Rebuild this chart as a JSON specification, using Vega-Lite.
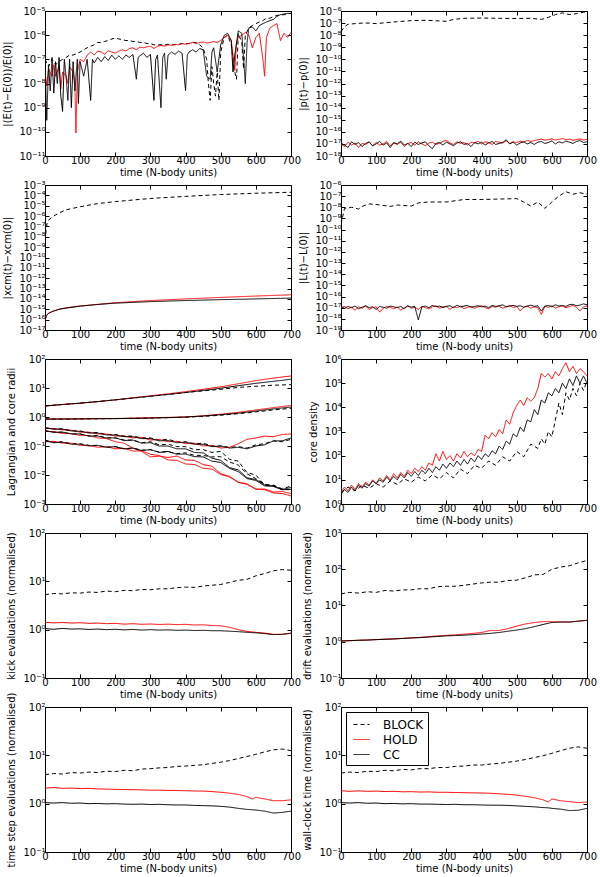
{
  "$schema": "https://vega.github.io/schema/vega-lite/v6.json",
  "padding": {"left": 2, "top": 5, "right": 0, "bottom": 2},
  "background": "white",
  "columns": 2,
  "bounds": "flush",
  "spacing": {"row": 29, "column": 50},
  "resolve": {
    "scale": {"color": "independent", "strokeDash": "independent", "y": "independent"},
    "legend": {"color": "independent", "strokeDash": "independent"}
  },
  "config": {
    "font": "DejaVu Sans",
    "view": {"stroke": "black", "strokeWidth": 1},
    "axis": {
      "grid": false, "domain": false, "tickColor": "black", "tickSize": -4, "tickWidth": 1,
      "labelColor": "black", "labelFontSize": 10, "labelPadding": 4, "labelOverlap": false, "labelFlush": false,
      "titleColor": "black", "titleFontSize": 10, "titleFontWeight": "normal"
    },
    "axisX": {"titlePadding": 2, "labelPadding": 3, "titleFontWeight": "normal"},
    "axisY": {"titlePadding": 6, "titleFontWeight": "normal"}
  },
  "datasets": {
    "p1": [
      {"t":0,"BLOCK":1e-7,"HOLD":3e-8,"CC":1e-7},
      {"t":5,"HOLD":8e-9,"CC":3e-10},
      {"t":10,"BLOCK":5e-8,"HOLD":4e-8,"CC":6e-8},
      {"t":15,"CC":5e-9},
      {"t":20,"BLOCK":1e-7,"HOLD":2e-8,"CC":1.2e-7},
      {"t":25,"HOLD":6e-8,"CC":4e-9},
      {"t":30,"BLOCK":6e-8,"HOLD":2e-8,"CC":8e-8},
      {"t":35,"CC":1e-8},
      {"t":40,"BLOCK":8e-8,"HOLD":5e-8,"CC":1.2e-7},
      {"t":45,"HOLD":6e-9,"CC":3e-9},
      {"t":50,"BLOCK":1e-7,"HOLD":3e-8,"CC":7e-10},
      {"t":55,"CC":1e-7},
      {"t":60,"BLOCK":1.2e-7,"HOLD":2e-8,"CC":2e-8},
      {"t":65,"HOLD":1e-8,"CC":2e-9},
      {"t":70,"BLOCK":1.5e-7,"HOLD":5e-8,"CC":1e-7},
      {"t":75,"CC":1e-9},
      {"t":80,"BLOCK":1.5e-7,"HOLD":3e-8,"CC":8e-8},
      {"t":85,"HOLD":1e-8,"CC":5e-9},
      {"t":88,"HOLD":9e-11},
      {"t":92,"HOLD":3e-8,"CC":1e-7},
      {"t":95,"CC":1.5e-9},
      {"t":100,"BLOCK":2e-7,"HOLD":1e-7,"CC":8e-8},
      {"t":110,"BLOCK":2.5e-7,"HOLD":8e-8,"CC":2e-8},
      {"t":120,"BLOCK":3e-7,"HOLD":1.5e-7,"CC":1e-7},
      {"t":130,"BLOCK":3.5e-7,"HOLD":2e-7,"CC":2e-9},
      {"t":135,"CC":1e-7},
      {"t":140,"BLOCK":4e-7,"HOLD":1.5e-7,"CC":7e-8},
      {"t":150,"BLOCK":5e-7,"HOLD":2.2e-7,"CC":1.2e-7},
      {"t":160,"BLOCK":5e-7,"HOLD":2e-7,"CC":8e-8},
      {"t":170,"BLOCK":5.5e-7,"HOLD":1.6e-7,"CC":1.3e-7},
      {"t":180,"BLOCK":6e-7,"HOLD":2.3e-7,"CC":9e-8},
      {"t":190,"BLOCK":7e-7,"HOLD":2e-7,"CC":1.5e-7},
      {"t":200,"BLOCK":7.5e-7,"HOLD":1.8e-7,"CC":1e-7},
      {"t":210,"BLOCK":7e-7,"HOLD":2.2e-7,"CC":1.4e-7},
      {"t":220,"BLOCK":6.5e-7,"HOLD":2.5e-7,"CC":1e-7},
      {"t":230,"BLOCK":6e-7,"HOLD":2.2e-7,"CC":1.5e-7},
      {"t":240,"BLOCK":6e-7,"HOLD":2.8e-7,"CC":1.2e-7},
      {"t":250,"BLOCK":5.5e-7,"HOLD":3e-7,"CC":1.6e-7},
      {"t":260,"BLOCK":5.5e-7,"HOLD":2.5e-7,"CC":1.5e-8},
      {"t":265,"CC":1.2e-7},
      {"t":270,"BLOCK":5e-7,"HOLD":3.2e-7,"CC":1.4e-7},
      {"t":280,"BLOCK":5e-7,"HOLD":3e-7,"CC":1.8e-7},
      {"t":290,"BLOCK":4.5e-7,"HOLD":3.3e-7,"CC":1.2e-7},
      {"t":300,"BLOCK":4.5e-7,"HOLD":3.5e-7,"CC":1.6e-7},
      {"t":310,"BLOCK":4e-7,"HOLD":2.8e-7,"CC":2e-9},
      {"t":315,"CC":1e-7},
      {"t":320,"BLOCK":4e-7,"HOLD":3.5e-7,"CC":1.5e-7},
      {"t":330,"BLOCK":4e-7,"HOLD":3.8e-7,"CC":1e-9},
      {"t":335,"CC":1.2e-7},
      {"t":340,"BLOCK":4e-7,"HOLD":3.5e-7,"CC":1.8e-7},
      {"t":345,"CC":1.5e-8},
      {"t":350,"BLOCK":4.2e-7,"HOLD":4e-7,"CC":1.5e-7},
      {"t":360,"BLOCK":4e-7,"HOLD":3.8e-7,"CC":2e-7},
      {"t":370,"BLOCK":4e-7,"HOLD":4.2e-7,"CC":1.6e-7},
      {"t":380,"BLOCK":4.2e-7,"HOLD":4e-7,"CC":2.2e-7},
      {"t":390,"BLOCK":4.5e-7,"HOLD":4.5e-7,"CC":1.8e-7},
      {"t":400,"BLOCK":4.5e-7,"HOLD":4.2e-7,"CC":5e-9},
      {"t":405,"CC":1.5e-7},
      {"t":410,"BLOCK":4.5e-7,"HOLD":4.5e-7,"CC":2e-7},
      {"t":420,"BLOCK":5e-7,"HOLD":5e-7,"CC":2.5e-7},
      {"t":430,"BLOCK":5e-7,"HOLD":4.5e-7,"CC":2e-7},
      {"t":440,"BLOCK":4e-7,"HOLD":5e-7,"CC":2.8e-7},
      {"t":450,"BLOCK":3e-7,"HOLD":5.2e-7,"CC":2.5e-7},
      {"t":460,"BLOCK":1e-7,"HOLD":4.8e-7,"CC":2e-8},
      {"t":465,"BLOCK":1e-8},
      {"t":470,"BLOCK":2e-9,"HOLD":5e-7,"CC":1.5e-8},
      {"t":475,"BLOCK":5e-8,"CC":2e-7},
      {"t":480,"BLOCK":1e-8,"HOLD":5.5e-7,"CC":3e-7},
      {"t":485,"BLOCK":3e-9},
      {"t":490,"BLOCK":3e-8,"HOLD":5e-7,"CC":3e-8},
      {"t":495,"BLOCK":2e-9},
      {"t":500,"BLOCK":2e-7,"HOLD":6e-7,"CC":4e-7},
      {"t":510,"BLOCK":8e-7,"HOLD":8e-7,"CC":1e-6},
      {"t":520,"BLOCK":1e-6,"HOLD":1e-6,"CC":1.2e-6},
      {"t":530,"BLOCK":4e-7,"HOLD":6e-7,"CC":6e-7},
      {"t":535,"HOLD":1.5e-7,"CC":3e-8},
      {"t":540,"BLOCK":3e-8,"HOLD":3.5e-8,"CC":1.5e-7},
      {"t":545,"BLOCK":1.5e-8,"HOLD":5e-7},
      {"t":550,"BLOCK":1.2e-6,"HOLD":8e-7,"CC":1.5e-6},
      {"t":560,"BLOCK":5e-7,"HOLD":1e-6,"CC":1.2e-6},
      {"t":565,"BLOCK":4e-8},
      {"t":570,"BLOCK":1e-6,"HOLD":1.3e-6,"CC":1e-8},
      {"t":575,"CC":5e-7},
      {"t":580,"BLOCK":2e-6,"HOLD":1e-6,"CC":2e-6},
      {"t":590,"BLOCK":2.5e-6,"HOLD":3e-7,"CC":2.2e-6},
      {"t":600,"BLOCK":3e-6,"HOLD":8e-7,"CC":1.5e-6},
      {"t":610,"BLOCK":3.5e-6,"HOLD":1.2e-6,"CC":2.5e-6},
      {"t":620,"BLOCK":4e-6,"HOLD":1e-7,"CC":3e-6},
      {"t":625,"HOLD":2e-8},
      {"t":630,"BLOCK":5e-6,"HOLD":8e-7,"CC":3.5e-6},
      {"t":640,"BLOCK":5e-6,"HOLD":2e-6,"CC":4e-6},
      {"t":650,"BLOCK":6e-6,"HOLD":2.5e-6,"CC":4.5e-6},
      {"t":660,"BLOCK":6.5e-6,"HOLD":3e-6,"CC":6e-6},
      {"t":670,"BLOCK":7e-6,"HOLD":6e-7,"CC":7e-6},
      {"t":680,"BLOCK":7e-6,"HOLD":1.2e-6,"CC":7.5e-6},
      {"t":690,"BLOCK":7.5e-6,"HOLD":8e-7,"CC":8e-6},
      {"t":700,"BLOCK":8e-6,"HOLD":1.3e-6,"CC":8e-6}
    ],
    "p2": [
      {"t":0,"HOLD":1.0e-17,"CC":1.2e-17,"BLOCK":2e-8},
      {"t":10,"HOLD":0.6e-17,"CC":0.8e-17,"BLOCK":5e-8},
      {"t":20,"HOLD":1.4e-17,"CC":0.5e-17,"BLOCK":8e-8},
      {"t":30,"HOLD":0.8e-17,"CC":1.5e-17},
      {"t":40,"HOLD":1.2e-17,"CC":0.9e-17,"BLOCK":9e-8},
      {"t":50,"HOLD":0.5e-17,"CC":1.3e-17},
      {"t":60,"HOLD":1.1e-17,"CC":0.6e-17,"BLOCK":1e-7},
      {"t":70,"HOLD":0.9e-17,"CC":1.1e-17},
      {"t":80,"HOLD":1.5e-17,"CC":1.4e-17,"BLOCK":1e-7},
      {"t":90,"HOLD":0.7e-17,"CC":0.7e-17},
      {"t":100,"HOLD":1.3e-17,"CC":1.0e-17,"BLOCK":9e-8},
      {"t":110,"HOLD":0.8e-17,"CC":1.6e-17},
      {"t":120,"HOLD":1.0e-17,"CC":0.8e-17},
      {"t":130,"HOLD":1.6e-17,"CC":1.2e-17,"BLOCK":1.1e-7},
      {"t":140,"HOLD":0.7e-17,"CC":0.5e-17},
      {"t":150,"HOLD":1.2e-17,"CC":1.3e-17},
      {"t":160,"HOLD":0.9e-17,"CC":1.0e-17,"BLOCK":1.3e-7},
      {"t":170,"HOLD":1.4e-17,"CC":1.7e-17},
      {"t":180,"HOLD":0.6e-17,"CC":0.8e-17},
      {"t":190,"HOLD":1.1e-17,"CC":1.1e-17},
      {"t":200,"HOLD":1.3e-17,"CC":0.6e-17,"BLOCK":1.6e-7},
      {"t":210,"HOLD":0.8e-17,"CC":1.4e-17},
      {"t":220,"HOLD":1.5e-17,"CC":0.9e-17},
      {"t":230,"HOLD":1.0e-17,"CC":1.2e-17},
      {"t":240,"HOLD":0.7e-17,"CC":1.5e-17,"BLOCK":1.7e-7},
      {"t":250,"HOLD":1.2e-17,"CC":0.7e-17},
      {"t":260,"HOLD":1.4e-17,"CC":0.4e-17},
      {"t":270,"HOLD":0.9e-17,"CC":1.1e-17},
      {"t":280,"HOLD":1.1e-17,"CC":1.3e-17,"BLOCK":1.5e-7},
      {"t":290,"HOLD":1.6e-17,"CC":0.8e-17},
      {"t":300,"HOLD":2.0e-17,"CC":1.4e-17,"BLOCK":1.4e-7},
      {"t":310,"HOLD":1.2e-17,"CC":1.0e-17},
      {"t":320,"HOLD":0.9e-17,"CC":0.7e-17,"BLOCK":2e-7},
      {"t":330,"HOLD":1.5e-17,"CC":1.2e-17},
      {"t":340,"HOLD":1.1e-17,"CC":1.5e-17},
      {"t":350,"HOLD":1.3e-17,"CC":0.9e-17,"BLOCK":2.5e-7},
      {"t":360,"HOLD":0.8e-17,"CC":1.1e-17},
      {"t":370,"HOLD":1.4e-17,"CC":0.6e-17},
      {"t":380,"HOLD":1.2e-17,"CC":1.3e-17},
      {"t":390,"HOLD":1.7e-17,"CC":1.0e-17},
      {"t":400,"HOLD":1.0e-17,"CC":1.4e-17,"BLOCK":2.6e-7},
      {"t":410,"HOLD":1.5e-17,"CC":0.8e-17},
      {"t":420,"HOLD":1.3e-17,"CC":1.2e-17},
      {"t":430,"HOLD":0.9e-17,"CC":1.6e-17},
      {"t":440,"HOLD":1.6e-17,"CC":0.9e-17},
      {"t":450,"HOLD":1.4e-17,"CC":1.1e-17,"BLOCK":2.5e-7},
      {"t":460,"HOLD":1.2e-17,"CC":1.3e-17},
      {"t":470,"HOLD":1.8e-17,"CC":2.2e-17},
      {"t":480,"HOLD":1.1e-17,"CC":1.0e-17},
      {"t":490,"HOLD":1.5e-17,"CC":1.4e-17},
      {"t":500,"HOLD":1.3e-17,"CC":0.8e-17,"BLOCK":2.4e-7},
      {"t":510,"HOLD":1.7e-17,"CC":1.2e-17},
      {"t":520,"HOLD":1.4e-17,"CC":1.5e-17},
      {"t":530,"HOLD":2.0e-17,"CC":1.0e-17},
      {"t":540,"HOLD":1.6e-17,"CC":1.3e-17,"BLOCK":2.5e-7},
      {"t":550,"HOLD":1.9e-17,"CC":0.9e-17},
      {"t":560,"HOLD":2.2e-17,"CC":1.4e-17},
      {"t":570,"HOLD":2.5e-17,"CC":1.6e-17,"BLOCK":2e-7},
      {"t":580,"HOLD":2.0e-17,"CC":1.1e-17},
      {"t":590,"HOLD":2.3e-17,"CC":1.3e-17,"BLOCK":3e-7},
      {"t":600,"HOLD":2.6e-17,"CC":1.8e-17},
      {"t":610,"HOLD":2.1e-17,"CC":1.0e-17,"BLOCK":5e-7},
      {"t":620,"HOLD":2.4e-17,"CC":1.5e-17},
      {"t":630,"HOLD":2.8e-17,"CC":1.2e-17,"BLOCK":7e-7},
      {"t":640,"HOLD":2.2e-17,"CC":1.7e-17},
      {"t":650,"HOLD":2.5e-17,"CC":1.4e-17,"BLOCK":5e-7},
      {"t":660,"HOLD":2.0e-17,"CC":1.1e-17},
      {"t":670,"HOLD":2.3e-17,"CC":1.6e-17,"BLOCK":6e-7},
      {"t":680,"HOLD":2.6e-17,"CC":1.9e-17},
      {"t":690,"HOLD":2.1e-17,"CC":1.3e-17,"BLOCK":8e-7},
      {"t":700,"HOLD":2.4e-17,"CC":1.5e-17,"BLOCK":7e-7}
    ],
    "p3": [
      {"t":0,"HOLD":1e-17,"CC":1e-17},
      {"t":1,"BLOCK":4e-9,"HOLD":1e-16,"CC":1e-16},
      {"t":3,"BLOCK":5e-8,"HOLD":2e-16,"CC":2e-16},
      {"t":6,"BLOCK":2e-7,"HOLD":3e-16,"CC":3e-16},
      {"t":10,"BLOCK":4e-7,"HOLD":4e-16,"CC":4e-16},
      {"t":20,"BLOCK":8e-7,"HOLD":6e-16,"CC":6e-16},
      {"t":40,"BLOCK":2e-6,"HOLD":1e-15,"CC":1e-15},
      {"t":60,"BLOCK":4e-6,"HOLD":1.4e-15,"CC":1.3e-15},
      {"t":100,"BLOCK":8e-6,"HOLD":2.1e-15,"CC":2e-15},
      {"t":150,"BLOCK":1.6e-5,"HOLD":3e-15,"CC":2.9e-15},
      {"t":200,"BLOCK":2.5e-5,"HOLD":4.3e-15,"CC":3.9e-15},
      {"t":300,"BLOCK":5e-5,"HOLD":7e-15,"CC":5.5e-15},
      {"t":400,"BLOCK":8e-5,"HOLD":1e-14,"CC":7e-15},
      {"t":500,"BLOCK":1.2e-4,"HOLD":1.4e-14,"CC":8.5e-15},
      {"t":600,"BLOCK":1.6e-4,"HOLD":1.9e-14,"CC":1e-14},
      {"t":700,"BLOCK":2e-4,"HOLD":2.5e-14,"CC":1.2e-14}
    ],
    "p4": [
      {"t":0,"HOLD":1.0e-17,"CC":1.2e-17,"BLOCK":3e-10},
      {"t":10,"HOLD":1.3e-17,"CC":0.9e-17,"BLOCK":8e-9},
      {"t":20,"HOLD":0.8e-17,"CC":1.3e-17},
      {"t":30,"HOLD":1.1e-17,"CC":1.0e-17,"BLOCK":1e-8},
      {"t":40,"HOLD":0.6e-17,"CC":1.4e-17},
      {"t":50,"HOLD":1.2e-17,"CC":0.8e-17,"BLOCK":7e-9},
      {"t":60,"HOLD":0.9e-17,"CC":1.1e-17,"BLOCK":1.2e-8},
      {"t":70,"HOLD":1.4e-17,"CC":1.5e-17},
      {"t":80,"HOLD":0.7e-17,"CC":1.0e-17,"BLOCK":2e-8},
      {"t":90,"HOLD":1.0e-17,"CC":1.2e-17},
      {"t":100,"HOLD":1.2e-17,"CC":0.7e-17,"BLOCK":1.8e-8},
      {"t":110,"HOLD":0.4e-17,"CC":1.3e-17},
      {"t":120,"HOLD":0.9e-17,"CC":1.1e-17},
      {"t":130,"HOLD":1.3e-17,"CC":0.9e-17},
      {"t":140,"HOLD":1.1e-17,"CC":1.4e-17,"BLOCK":1.2e-8},
      {"t":150,"HOLD":0.8e-17,"CC":1.2e-17},
      {"t":160,"HOLD":1.2e-17,"CC":1.0e-17,"BLOCK":1.6e-8},
      {"t":170,"HOLD":0.6e-17,"CC":1.3e-17},
      {"t":180,"HOLD":1.0e-17,"CC":0.8e-17},
      {"t":190,"HOLD":1.4e-17,"CC":1.5e-17},
      {"t":200,"HOLD":0.9e-17,"CC":1.1e-17,"BLOCK":1.3e-8},
      {"t":210,"HOLD":1.1e-17,"CC":1.3e-17},
      {"t":220,"HOLD":0.7e-17,"CC":0.08e-17,"BLOCK":2.5e-8},
      {"t":230,"HOLD":1.3e-17,"CC":1.2e-17},
      {"t":240,"HOLD":1.0e-17,"CC":1.4e-17},
      {"t":250,"HOLD":0.8e-17,"CC":1.0e-17,"BLOCK":3e-8},
      {"t":260,"HOLD":1.2e-17,"CC":1.6e-17},
      {"t":270,"HOLD":1.5e-17,"CC":1.2e-17},
      {"t":280,"HOLD":0.9e-17,"CC":1.4e-17},
      {"t":290,"HOLD":1.1e-17,"CC":1.1e-17},
      {"t":300,"HOLD":1.3e-17,"CC":1.3e-17,"BLOCK":3e-8},
      {"t":310,"HOLD":0.7e-17,"CC":1.5e-17},
      {"t":320,"HOLD":1.2e-17,"CC":1.0e-17},
      {"t":330,"HOLD":1.0e-17,"CC":1.7e-17},
      {"t":340,"HOLD":1.4e-17,"CC":1.2e-17},
      {"t":350,"HOLD":0.8e-17,"CC":1.4e-17,"BLOCK":5e-8},
      {"t":360,"HOLD":1.1e-17,"CC":1.6e-17},
      {"t":370,"HOLD":1.3e-17,"CC":1.1e-17},
      {"t":380,"HOLD":0.9e-17,"CC":1.3e-17},
      {"t":390,"HOLD":1.2e-17,"CC":1.5e-17},
      {"t":400,"HOLD":1.5e-17,"CC":1.2e-17,"BLOCK":5e-8},
      {"t":410,"HOLD":1.0e-17,"CC":1.4e-17},
      {"t":420,"HOLD":0.8e-17,"CC":1.0e-17},
      {"t":430,"HOLD":1.3e-17,"CC":1.6e-17},
      {"t":440,"HOLD":1.1e-17,"CC":1.3e-17},
      {"t":450,"HOLD":1.4e-17,"CC":1.5e-17,"BLOCK":5.5e-8},
      {"t":460,"HOLD":0.9e-17,"CC":1.8e-17},
      {"t":470,"HOLD":1.2e-17,"CC":1.2e-17},
      {"t":480,"HOLD":1.6e-17,"CC":1.4e-17},
      {"t":490,"HOLD":1.0e-17,"CC":1.6e-17},
      {"t":500,"HOLD":1.3e-17,"CC":1.3e-17,"BLOCK":6e-8},
      {"t":510,"HOLD":0.5e-17,"CC":1.5e-17},
      {"t":520,"HOLD":1.1e-17,"CC":1.1e-17,"BLOCK":3e-8},
      {"t":530,"HOLD":1.4e-17,"CC":1.4e-17},
      {"t":540,"HOLD":0.9e-17,"CC":1.7e-17,"BLOCK":1.3e-8},
      {"t":550,"HOLD":1.2e-17,"CC":1.3e-17},
      {"t":560,"HOLD":1.0e-17,"CC":1.5e-17,"BLOCK":3e-8},
      {"t":570,"HOLD":0.25e-17,"CC":0.5e-17},
      {"t":580,"HOLD":1.3e-17,"CC":1.4e-17,"BLOCK":8e-9},
      {"t":590,"HOLD":1.1e-17,"CC":1.6e-17,"BLOCK":1.5e-8},
      {"t":600,"HOLD":1.5e-17,"CC":1.2e-17,"BLOCK":3e-8},
      {"t":610,"HOLD":0.9e-17,"CC":1.8e-17},
      {"t":620,"HOLD":1.2e-17,"CC":1.4e-17,"BLOCK":1e-7},
      {"t":630,"HOLD":1.4e-17,"CC":1.6e-17},
      {"t":640,"HOLD":1.0e-17,"CC":1.3e-17,"BLOCK":2.5e-7},
      {"t":650,"HOLD":1.3e-17,"CC":1.9e-17},
      {"t":660,"HOLD":1.6e-17,"CC":2.0e-17,"BLOCK":1.5e-7},
      {"t":670,"HOLD":1.1e-17,"CC":1.5e-17},
      {"t":680,"HOLD":0.5e-17,"CC":1.7e-17,"BLOCK":2e-7},
      {"t":690,"HOLD":1.2e-17,"CC":2.2e-17},
      {"t":700,"HOLD":1.4e-17,"CC":1.8e-17,"BLOCK":1.5e-7}
    ],
    "p5": [
      {"t":0,"r":"a","BLOCK":2.4,"HOLD":2.4,"CC":2.4},
      {"t":50,"r":"a","BLOCK":2.7,"HOLD":2.7,"CC":2.7},
      {"t":100,"r":"a","BLOCK":3.0,"HOLD":3.0,"CC":3.0},
      {"t":150,"r":"a","BLOCK":3.4,"HOLD":3.4,"CC":3.4},
      {"t":200,"r":"a","BLOCK":3.9,"HOLD":3.9,"CC":3.9},
      {"t":250,"r":"a","BLOCK":4.5,"HOLD":4.6,"CC":4.5},
      {"t":300,"r":"a","BLOCK":5.2,"HOLD":5.4,"CC":5.2},
      {"t":350,"r":"a","BLOCK":6.0,"HOLD":6.3,"CC":6.0},
      {"t":400,"r":"a","BLOCK":7.0,"HOLD":7.5,"CC":7.0},
      {"t":450,"r":"a","BLOCK":8.0,"HOLD":9.0,"CC":8.2},
      {"t":500,"r":"a","BLOCK":9.0,"HOLD":11,"CC":9.8},
      {"t":550,"r":"a","BLOCK":10.5,"HOLD":14,"CC":12},
      {"t":600,"r":"a","BLOCK":11.5,"HOLD":18,"CC":14.5},
      {"t":650,"r":"a","BLOCK":12.5,"HOLD":22,"CC":17},
      {"t":700,"r":"a","BLOCK":13,"HOLD":26,"CC":20},
      {"t":0,"r":"b","BLOCK":0.85,"HOLD":0.85,"CC":0.85},
      {"t":50,"r":"b","BLOCK":0.84,"HOLD":0.86,"CC":0.85},
      {"t":100,"r":"b","BLOCK":0.86,"HOLD":0.86,"CC":0.86},
      {"t":150,"r":"b","BLOCK":0.87,"HOLD":0.88,"CC":0.87},
      {"t":200,"r":"b","BLOCK":0.88,"HOLD":0.89,"CC":0.88},
      {"t":250,"r":"b","BLOCK":0.9,"HOLD":0.91,"CC":0.9},
      {"t":300,"r":"b","BLOCK":0.92,"HOLD":0.94,"CC":0.92},
      {"t":350,"r":"b","BLOCK":0.95,"HOLD":0.97,"CC":0.95},
      {"t":400,"r":"b","BLOCK":0.98,"HOLD":1.0,"CC":1.0},
      {"t":450,"r":"b","BLOCK":1.05,"HOLD":1.1,"CC":1.08},
      {"t":500,"r":"b","BLOCK":1.15,"HOLD":1.25,"CC":1.2},
      {"t":550,"r":"b","BLOCK":1.3,"HOLD":1.45,"CC":1.35},
      {"t":600,"r":"b","BLOCK":1.5,"HOLD":1.75,"CC":1.6},
      {"t":650,"r":"b","BLOCK":1.75,"HOLD":2.1,"CC":1.9},
      {"t":700,"r":"b","BLOCK":2.0,"HOLD":2.5,"CC":2.2},
      {"t":0,"r":"c","BLOCK":0.43,"HOLD":0.4,"CC":0.42},
      {"t":25,"r":"c","BLOCK":0.39,"HOLD":0.4,"CC":0.38},
      {"t":50,"r":"c","BLOCK":0.39,"HOLD":0.36,"CC":0.38},
      {"t":75,"r":"c","BLOCK":0.34,"HOLD":0.35,"CC":0.33},
      {"t":100,"r":"c","BLOCK":0.33,"HOLD":0.3,"CC":0.32},
      {"t":125,"r":"c","BLOCK":0.29,"HOLD":0.3,"CC":0.28},
      {"t":150,"r":"c","BLOCK":0.29,"HOLD":0.26,"CC":0.28},
      {"t":175,"r":"c","BLOCK":0.25,"HOLD":0.26,"CC":0.24},
      {"t":200,"r":"c","BLOCK":0.25,"HOLD":0.22,"CC":0.24},
      {"t":225,"r":"c","BLOCK":0.22,"HOLD":0.22,"CC":0.21},
      {"t":250,"r":"c","BLOCK":0.22,"HOLD":0.19,"CC":0.21},
      {"t":275,"r":"c","BLOCK":0.19,"HOLD":0.2,"CC":0.18},
      {"t":300,"r":"c","BLOCK":0.19,"HOLD":0.16,"CC":0.18},
      {"t":325,"r":"c","BLOCK":0.16,"HOLD":0.17,"CC":0.15},
      {"t":350,"r":"c","BLOCK":0.17,"HOLD":0.14,"CC":0.155},
      {"t":375,"r":"c","BLOCK":0.14,"HOLD":0.145,"CC":0.13},
      {"t":400,"r":"c","BLOCK":0.14,"HOLD":0.12,"CC":0.135},
      {"t":425,"r":"c","BLOCK":0.12,"HOLD":0.125,"CC":0.115},
      {"t":450,"r":"c","BLOCK":0.125,"HOLD":0.1,"CC":0.115},
      {"t":475,"r":"c","BLOCK":0.1,"HOLD":0.105,"CC":0.095},
      {"t":500,"r":"c","BLOCK":0.1,"HOLD":0.085,"CC":0.1},
      {"t":525,"r":"c","BLOCK":0.09,"HOLD":0.09,"CC":0.085},
      {"t":550,"r":"c","BLOCK":0.095,"HOLD":0.12,"CC":0.09},
      {"t":575,"r":"c","BLOCK":0.085,"HOLD":0.17,"CC":0.08},
      {"t":600,"r":"c","BLOCK":0.11,"HOLD":0.19,"CC":0.1},
      {"t":625,"r":"c","BLOCK":0.12,"HOLD":0.22,"CC":0.11},
      {"t":650,"r":"c","BLOCK":0.15,"HOLD":0.21,"CC":0.15},
      {"t":675,"r":"c","BLOCK":0.14,"HOLD":0.25,"CC":0.15},
      {"t":700,"r":"c","BLOCK":0.17,"HOLD":0.26,"CC":0.19},
      {"t":0,"r":"d","BLOCK":0.34,"HOLD":0.32,"CC":0.33},
      {"t":25,"r":"d","BLOCK":0.3,"HOLD":0.31,"CC":0.3},
      {"t":50,"r":"d","BLOCK":0.3,"HOLD":0.27,"CC":0.3},
      {"t":75,"r":"d","BLOCK":0.26,"HOLD":0.27,"CC":0.26},
      {"t":100,"r":"d","BLOCK":0.26,"HOLD":0.23,"CC":0.26},
      {"t":125,"r":"d","BLOCK":0.22,"HOLD":0.23,"CC":0.22},
      {"t":150,"r":"d","BLOCK":0.23,"HOLD":0.19,"CC":0.22},
      {"t":175,"r":"d","BLOCK":0.19,"HOLD":0.18,"CC":0.19},
      {"t":200,"r":"d","BLOCK":0.19,"HOLD":0.14,"CC":0.19},
      {"t":225,"r":"d","BLOCK":0.16,"HOLD":0.125,"CC":0.155},
      {"t":250,"r":"d","BLOCK":0.16,"HOLD":0.085,"CC":0.16},
      {"t":275,"r":"d","BLOCK":0.13,"HOLD":0.065,"CC":0.125},
      {"t":300,"r":"d","BLOCK":0.14,"HOLD":0.042,"CC":0.13},
      {"t":325,"r":"d","BLOCK":0.11,"HOLD":0.045,"CC":0.1},
      {"t":350,"r":"d","BLOCK":0.115,"HOLD":0.04,"CC":0.1},
      {"t":375,"r":"d","BLOCK":0.095,"HOLD":0.045,"CC":0.08},
      {"t":400,"r":"d","BLOCK":0.095,"HOLD":0.033,"CC":0.08},
      {"t":425,"r":"d","BLOCK":0.075,"HOLD":0.032,"CC":0.06},
      {"t":450,"r":"d","BLOCK":0.075,"HOLD":0.023,"CC":0.058},
      {"t":475,"r":"d","BLOCK":0.06,"HOLD":0.02,"CC":0.038},
      {"t":500,"r":"d","BLOCK":0.065,"HOLD":0.011,"CC":0.032},
      {"t":525,"r":"d","BLOCK":0.035,"HOLD":0.009,"CC":0.018},
      {"t":550,"r":"d","BLOCK":0.03,"HOLD":0.0055,"CC":0.015},
      {"t":575,"r":"d","BLOCK":0.012,"HOLD":0.005,"CC":0.008},
      {"t":600,"r":"d","BLOCK":0.01,"HOLD":0.0032,"CC":0.007},
      {"t":625,"r":"d","BLOCK":0.0045,"HOLD":0.0033,"CC":0.0045},
      {"t":650,"r":"d","BLOCK":0.0045,"HOLD":0.0026,"CC":0.0042},
      {"t":675,"r":"d","BLOCK":0.0033,"HOLD":0.0027,"CC":0.0032},
      {"t":700,"r":"d","BLOCK":0.0042,"HOLD":0.0023,"CC":0.0037},
      {"t":0,"r":"e","BLOCK":0.16,"HOLD":0.14,"CC":0.15},
      {"t":25,"r":"e","BLOCK":0.135,"HOLD":0.145,"CC":0.13},
      {"t":50,"r":"e","BLOCK":0.14,"HOLD":0.125,"CC":0.135},
      {"t":75,"r":"e","BLOCK":0.12,"HOLD":0.125,"CC":0.115},
      {"t":100,"r":"e","BLOCK":0.12,"HOLD":0.105,"CC":0.115},
      {"t":125,"r":"e","BLOCK":0.105,"HOLD":0.105,"CC":0.1},
      {"t":150,"r":"e","BLOCK":0.105,"HOLD":0.09,"CC":0.105},
      {"t":175,"r":"e","BLOCK":0.09,"HOLD":0.095,"CC":0.09},
      {"t":200,"r":"e","BLOCK":0.095,"HOLD":0.08,"CC":0.095},
      {"t":225,"r":"e","BLOCK":0.08,"HOLD":0.083,"CC":0.08},
      {"t":250,"r":"e","BLOCK":0.085,"HOLD":0.067,"CC":0.085},
      {"t":275,"r":"e","BLOCK":0.072,"HOLD":0.068,"CC":0.07},
      {"t":300,"r":"e","BLOCK":0.074,"HOLD":0.052,"CC":0.075},
      {"t":325,"r":"e","BLOCK":0.062,"HOLD":0.047,"CC":0.06},
      {"t":350,"r":"e","BLOCK":0.063,"HOLD":0.033,"CC":0.065},
      {"t":375,"r":"e","BLOCK":0.055,"HOLD":0.032,"CC":0.052},
      {"t":400,"r":"e","BLOCK":0.058,"HOLD":0.024,"CC":0.053},
      {"t":425,"r":"e","BLOCK":0.048,"HOLD":0.023,"CC":0.043},
      {"t":450,"r":"e","BLOCK":0.047,"HOLD":0.017,"CC":0.042},
      {"t":475,"r":"e","BLOCK":0.042,"HOLD":0.016,"CC":0.03},
      {"t":500,"r":"e","BLOCK":0.043,"HOLD":0.0105,"CC":0.027},
      {"t":525,"r":"e","BLOCK":0.028,"HOLD":0.0085,"CC":0.017},
      {"t":550,"r":"e","BLOCK":0.022,"HOLD":0.0057,"CC":0.013},
      {"t":575,"r":"e","BLOCK":0.011,"HOLD":0.0047,"CC":0.0075},
      {"t":600,"r":"e","BLOCK":0.0075,"HOLD":0.0033,"CC":0.0065},
      {"t":625,"r":"e","BLOCK":0.0048,"HOLD":0.0031,"CC":0.0042},
      {"t":650,"r":"e","BLOCK":0.0042,"HOLD":0.0024,"CC":0.004},
      {"t":675,"r":"e","BLOCK":0.0032,"HOLD":0.0023,"CC":0.0031},
      {"t":700,"r":"e","BLOCK":0.0031,"HOLD":0.0019,"CC":0.0032}
    ],
    "p6": [
      {"t":0,"HOLD":3,"CC":2.5,"BLOCK":3},
      {"t":10,"HOLD":5,"CC":4},
      {"t":20,"HOLD":3.5,"CC":3,"BLOCK":5},
      {"t":30,"HOLD":6,"CC":5},
      {"t":40,"HOLD":4,"CC":3.5,"BLOCK":3.5},
      {"t":50,"HOLD":7,"CC":6},
      {"t":60,"HOLD":5,"CC":4.5,"BLOCK":6},
      {"t":70,"HOLD":8,"CC":7},
      {"t":80,"HOLD":6,"CC":5.5,"BLOCK":4.5},
      {"t":90,"HOLD":10,"CC":9},
      {"t":100,"HOLD":7,"CC":7,"BLOCK":7},
      {"t":110,"HOLD":12,"CC":10},
      {"t":120,"HOLD":9,"CC":8,"BLOCK":5},
      {"t":130,"HOLD":15,"CC":13},
      {"t":140,"HOLD":10,"CC":9,"BLOCK":9},
      {"t":150,"HOLD":18,"CC":14},
      {"t":160,"HOLD":12,"CC":10,"BLOCK":6.5},
      {"t":170,"HOLD":20,"CC":17},
      {"t":180,"HOLD":14,"CC":12,"BLOCK":11},
      {"t":190,"HOLD":25,"CC":20},
      {"t":200,"HOLD":18,"CC":14,"BLOCK":8},
      {"t":210,"HOLD":30,"CC":22},
      {"t":220,"HOLD":22,"CC":15,"BLOCK":13},
      {"t":230,"HOLD":35,"CC":25},
      {"t":240,"HOLD":25,"CC":18,"BLOCK":9},
      {"t":250,"HOLD":50,"CC":30},
      {"t":260,"HOLD":40,"CC":20,"BLOCK":16},
      {"t":270,"HOLD":120,"CC":35},
      {"t":280,"HOLD":60,"CC":25,"BLOCK":11},
      {"t":290,"HOLD":150,"CC":45},
      {"t":300,"HOLD":70,"CC":30,"BLOCK":20},
      {"t":310,"HOLD":100,"CC":50},
      {"t":320,"HOLD":60,"CC":35,"BLOCK":12},
      {"t":330,"HOLD":120,"CC":60},
      {"t":340,"HOLD":80,"CC":40,"BLOCK":28},
      {"t":350,"HOLD":150,"CC":70},
      {"t":360,"HOLD":90,"CC":45,"BLOCK":18},
      {"t":370,"HOLD":130,"CC":80},
      {"t":380,"HOLD":100,"CC":55,"BLOCK":40},
      {"t":390,"HOLD":180,"CC":100},
      {"t":400,"HOLD":150,"CC":70,"BLOCK":30},
      {"t":410,"HOLD":700,"CC":120},
      {"t":420,"HOLD":500,"CC":90,"BLOCK":60},
      {"t":430,"HOLD":900,"CC":160},
      {"t":440,"HOLD":600,"CC":120,"BLOCK":40},
      {"t":450,"HOLD":1200,"CC":250},
      {"t":460,"HOLD":800,"CC":180,"BLOCK":90},
      {"t":470,"HOLD":3000,"CC":400},
      {"t":480,"HOLD":2000,"CC":300,"BLOCK":60},
      {"t":490,"HOLD":6000,"CC":800},
      {"t":500,"HOLD":12000,"CC":600,"BLOCK":150},
      {"t":510,"HOLD":20000,"CC":1500},
      {"t":520,"HOLD":12000,"CC":1000,"BLOCK":90},
      {"t":530,"HOLD":25000,"CC":3000},
      {"t":540,"HOLD":18000,"CC":2500,"BLOCK":300},
      {"t":550,"HOLD":25000,"CC":8000},
      {"t":560,"HOLD":60000,"CC":5000,"BLOCK":200},
      {"t":570,"HOLD":250000,"CC":20000,"BLOCK":500},
      {"t":580,"HOLD":180000,"CC":15000,"BLOCK":300},
      {"t":590,"HOLD":250000,"CC":40000,"BLOCK":1000},
      {"t":600,"HOLD":150000,"CC":30000,"BLOCK":600},
      {"t":610,"HOLD":300000,"CC":60000,"BLOCK":3000},
      {"t":620,"HOLD":200000,"CC":40000,"BLOCK":15000},
      {"t":630,"HOLD":400000,"CC":100000,"BLOCK":5000},
      {"t":640,"HOLD":700000,"CC":60000,"BLOCK":40000},
      {"t":650,"HOLD":300000,"CC":150000,"BLOCK":20000},
      {"t":660,"HOLD":500000,"CC":80000,"BLOCK":60000},
      {"t":670,"HOLD":250000,"CC":200000,"BLOCK":30000},
      {"t":680,"HOLD":400000,"CC":100000,"BLOCK":100000},
      {"t":690,"HOLD":300000,"CC":200000,"BLOCK":50000},
      {"t":700,"HOLD":200000,"CC":100000,"BLOCK":120000}
    ],
    "p7": [
      {"t":0,"BLOCK":5.3,"HOLD":1.42,"CC":1.05},
      {"t":25,"BLOCK":5.6,"HOLD":1.38,"CC":1.02},
      {"t":50,"BLOCK":5.5,"HOLD":1.41,"CC":1.06},
      {"t":75,"BLOCK":5.8,"HOLD":1.37,"CC":1.03},
      {"t":100,"BLOCK":5.7,"HOLD":1.39,"CC":1.04},
      {"t":125,"BLOCK":6.0,"HOLD":1.35,"CC":1.01},
      {"t":150,"BLOCK":5.9,"HOLD":1.37,"CC":1.03},
      {"t":175,"BLOCK":6.3,"HOLD":1.33,"CC":1.0},
      {"t":200,"BLOCK":6.1,"HOLD":1.35,"CC":1.02},
      {"t":225,"BLOCK":6.5,"HOLD":1.3,"CC":0.99},
      {"t":250,"BLOCK":6.4,"HOLD":1.33,"CC":1.01},
      {"t":275,"BLOCK":6.8,"HOLD":1.29,"CC":0.98},
      {"t":300,"BLOCK":6.7,"HOLD":1.31,"CC":1.0},
      {"t":325,"BLOCK":7.0,"HOLD":1.28,"CC":0.98},
      {"t":350,"BLOCK":7.0,"HOLD":1.3,"CC":0.99},
      {"t":375,"BLOCK":7.4,"HOLD":1.27,"CC":0.97},
      {"t":400,"BLOCK":7.6,"HOLD":1.29,"CC":0.98},
      {"t":425,"BLOCK":7.5,"HOLD":1.25,"CC":0.96},
      {"t":450,"BLOCK":8.0,"HOLD":1.26,"CC":0.97},
      {"t":475,"BLOCK":8.3,"HOLD":1.22,"CC":0.95},
      {"t":500,"BLOCK":8.6,"HOLD":1.2,"CC":0.95},
      {"t":525,"BLOCK":9.5,"HOLD":1.12,"CC":0.93},
      {"t":550,"BLOCK":10.5,"HOLD":1.0,"CC":0.91},
      {"t":575,"BLOCK":11,"HOLD":0.92,"CC":0.88},
      {"t":600,"BLOCK":13,"HOLD":0.88,"CC":0.86},
      {"t":625,"BLOCK":14.5,"HOLD":0.85,"CC":0.83},
      {"t":650,"BLOCK":16.5,"HOLD":0.8,"CC":0.79},
      {"t":675,"BLOCK":17.5,"HOLD":0.8,"CC":0.8},
      {"t":700,"BLOCK":17,"HOLD":0.85,"CC":0.84}
    ],
    "p8": [
      {"t":0,"BLOCK":21,"HOLD":1.05,"CC":1.05},
      {"t":25,"BLOCK":23,"HOLD":1.07,"CC":1.07},
      {"t":50,"BLOCK":22,"HOLD":1.1,"CC":1.1},
      {"t":75,"BLOCK":24,"HOLD":1.12,"CC":1.11},
      {"t":100,"BLOCK":23,"HOLD":1.15,"CC":1.14},
      {"t":125,"BLOCK":26,"HOLD":1.18,"CC":1.17},
      {"t":150,"BLOCK":25,"HOLD":1.2,"CC":1.19},
      {"t":175,"BLOCK":27,"HOLD":1.24,"CC":1.23},
      {"t":200,"BLOCK":27,"HOLD":1.28,"CC":1.27},
      {"t":225,"BLOCK":29,"HOLD":1.32,"CC":1.3},
      {"t":250,"BLOCK":29,"HOLD":1.38,"CC":1.35},
      {"t":275,"BLOCK":33,"HOLD":1.45,"CC":1.4},
      {"t":300,"BLOCK":34,"HOLD":1.5,"CC":1.45},
      {"t":325,"BLOCK":34,"HOLD":1.55,"CC":1.48},
      {"t":350,"BLOCK":36,"HOLD":1.62,"CC":1.52},
      {"t":375,"BLOCK":39,"HOLD":1.7,"CC":1.57},
      {"t":400,"BLOCK":42,"HOLD":1.8,"CC":1.63},
      {"t":425,"BLOCK":44,"HOLD":2.05,"CC":1.7},
      {"t":450,"BLOCK":44,"HOLD":2.05,"CC":1.8},
      {"t":475,"BLOCK":49,"HOLD":2.3,"CC":1.95},
      {"t":500,"BLOCK":50,"HOLD":2.7,"CC":2.1},
      {"t":525,"BLOCK":58,"HOLD":3.1,"CC":2.3},
      {"t":550,"BLOCK":70,"HOLD":3.4,"CC":2.6},
      {"t":575,"BLOCK":72,"HOLD":3.6,"CC":3.0},
      {"t":600,"BLOCK":100,"HOLD":3.6,"CC":3.4},
      {"t":625,"BLOCK":115,"HOLD":3.5,"CC":3.5},
      {"t":650,"BLOCK":125,"HOLD":3.5,"CC":3.5},
      {"t":675,"BLOCK":150,"HOLD":3.7,"CC":3.7},
      {"t":700,"BLOCK":175,"HOLD":3.9,"CC":3.9}
    ],
    "p9": [
      {"t":0,"BLOCK":4.0,"HOLD":2.1,"CC":1.05},
      {"t":25,"BLOCK":4.2,"HOLD":2.15,"CC":1.03},
      {"t":50,"BLOCK":4.1,"HOLD":2.08,"CC":1.05},
      {"t":75,"BLOCK":4.4,"HOLD":2.1,"CC":1.02},
      {"t":100,"BLOCK":4.3,"HOLD":2.05,"CC":1.03},
      {"t":125,"BLOCK":4.5,"HOLD":2.07,"CC":1.0},
      {"t":150,"BLOCK":4.4,"HOLD":2.02,"CC":1.01},
      {"t":175,"BLOCK":4.7,"HOLD":2.0,"CC":0.99},
      {"t":200,"BLOCK":4.6,"HOLD":1.98,"CC":1.0},
      {"t":225,"BLOCK":4.9,"HOLD":1.96,"CC":0.98},
      {"t":250,"BLOCK":4.8,"HOLD":1.95,"CC":0.97},
      {"t":275,"BLOCK":5.2,"HOLD":1.93,"CC":0.98},
      {"t":300,"BLOCK":5.3,"HOLD":1.9,"CC":0.96},
      {"t":325,"BLOCK":5.5,"HOLD":1.9,"CC":0.97},
      {"t":350,"BLOCK":5.6,"HOLD":1.88,"CC":0.95},
      {"t":375,"BLOCK":5.9,"HOLD":1.87,"CC":0.94},
      {"t":400,"BLOCK":6.0,"HOLD":1.85,"CC":0.94},
      {"t":425,"BLOCK":6.2,"HOLD":1.83,"CC":0.92},
      {"t":450,"BLOCK":6.4,"HOLD":1.82,"CC":0.91},
      {"t":475,"BLOCK":6.8,"HOLD":1.78,"CC":0.9},
      {"t":500,"BLOCK":7.2,"HOLD":1.72,"CC":0.88},
      {"t":525,"BLOCK":7.8,"HOLD":1.65,"CC":0.85},
      {"t":550,"BLOCK":8.6,"HOLD":1.55,"CC":0.8},
      {"t":575,"BLOCK":9.5,"HOLD":1.4,"CC":0.76},
      {"t":590,"HOLD":1.25},
      {"t":600,"BLOCK":10.5,"HOLD":1.35,"CC":0.74},
      {"t":625,"BLOCK":11.8,"HOLD":1.25,"CC":0.7},
      {"t":650,"BLOCK":13,"HOLD":1.15,"CC":0.64},
      {"t":675,"BLOCK":13.5,"HOLD":1.15,"CC":0.66},
      {"t":700,"BLOCK":12.5,"HOLD":1.2,"CC":0.7}
    ],
    "p10": [
      {"t":0,"BLOCK":4.3,"HOLD":1.85,"CC":1.05},
      {"t":25,"BLOCK":4.5,"HOLD":1.8,"CC":1.03},
      {"t":50,"BLOCK":4.4,"HOLD":1.84,"CC":1.05},
      {"t":75,"BLOCK":4.7,"HOLD":1.8,"CC":1.02},
      {"t":100,"BLOCK":4.6,"HOLD":1.82,"CC":1.03},
      {"t":125,"BLOCK":4.9,"HOLD":1.78,"CC":1.0},
      {"t":150,"BLOCK":4.8,"HOLD":1.8,"CC":1.01},
      {"t":175,"BLOCK":5.1,"HOLD":1.76,"CC":0.99},
      {"t":200,"BLOCK":5.0,"HOLD":1.77,"CC":1.0},
      {"t":225,"BLOCK":5.3,"HOLD":1.74,"CC":0.98},
      {"t":250,"BLOCK":5.3,"HOLD":1.75,"CC":0.98},
      {"t":275,"BLOCK":5.6,"HOLD":1.72,"CC":0.97},
      {"t":300,"BLOCK":5.6,"HOLD":1.72,"CC":0.96},
      {"t":325,"BLOCK":5.9,"HOLD":1.7,"CC":0.97},
      {"t":350,"BLOCK":6.0,"HOLD":1.69,"CC":0.95},
      {"t":375,"BLOCK":6.3,"HOLD":1.67,"CC":0.95},
      {"t":400,"BLOCK":6.3,"HOLD":1.66,"CC":0.94},
      {"t":425,"BLOCK":6.6,"HOLD":1.64,"CC":0.93},
      {"t":450,"BLOCK":6.8,"HOLD":1.6,"CC":0.93},
      {"t":475,"BLOCK":7.2,"HOLD":1.56,"CC":0.92},
      {"t":500,"BLOCK":7.6,"HOLD":1.5,"CC":0.9},
      {"t":525,"BLOCK":8.2,"HOLD":1.42,"CC":0.88},
      {"t":550,"BLOCK":9.0,"HOLD":1.33,"CC":0.86},
      {"t":575,"BLOCK":9.8,"HOLD":1.2,"CC":0.83},
      {"t":590,"BLOCK":10.5,"HOLD":1.08,"CC":0.82},
      {"t":600,"BLOCK":11,"HOLD":1.25,"CC":0.8},
      {"t":625,"BLOCK":12.5,"HOLD":1.15,"CC":0.77},
      {"t":650,"BLOCK":14,"HOLD":1.1,"CC":0.72},
      {"t":675,"BLOCK":15,"HOLD":1.05,"CC":0.73},
      {"t":700,"BLOCK":14,"HOLD":1.08,"CC":0.8}
    ]
  },
  "concat": [
    {
      "width": 246, "height": 145,
      "data": {"name": "p1"},
      "transform": [{"fold": ["BLOCK", "HOLD", "CC"], "as": ["method", "value"]}, {"filter": "isValid(datum.value)"}],
      "resolve": {"axis": {"x": "independent", "y": "independent"}},
      "layer": [
        {
          "mark": {"type": "line", "clip": true, "strokeWidth": 1},
          "encoding": {
            "x": {"field": "t", "type": "quantitative", "scale": {"domain": [0, 700], "nice": false}, "axis": {"values": [0, 100, 200, 300, 400, 500, 600, 700], "title": "time (N-body units)"}},
            "y": {"field": "value", "type": "quantitative", "scale": {"type": "log", "domain": [1e-11, 1e-5], "nice": false},
              "axis": {"values": [1e-11, 1e-10, 1e-9, 1e-8, 1e-7, 1e-6, 1e-5], "title": "|(E(t)−E(0))/E(0)|",
                "labelExpr": "'10' + (datum.value < 1 ? '⁻' : '') + (abs(round(log(datum.value)/LN10)) >= 10 ? '¹' : '') + ['⁰','¹','²','³','⁴','⁵','⁶','⁷','⁸','⁹'][abs(round(log(datum.value)/LN10)) % 10]"}},
            "color": {"field": "method", "type": "nominal", "scale": {"domain": ["BLOCK", "HOLD", "CC"], "range": ["black", "red", "black"]}, "legend": null},
            "strokeDash": {"field": "method", "type": "nominal", "scale": {"domain": ["BLOCK", "HOLD", "CC"], "range": [[4, 3], [1, 0], [1, 0]]}, "legend": null}
          }
        },
        {
          "mark": {"type": "point", "opacity": 0},
          "encoding": {
            "x": {"field": "t", "type": "quantitative", "scale": {"domain": [0, 700], "nice": false}, "axis": {"orient": "top", "labels": false, "title": null, "values": [0, 100, 200, 300, 400, 500, 600, 700]}},
            "y": {"field": "value", "type": "quantitative", "scale": {"type": "log", "domain": [1e-11, 1e-5], "nice": false}, "axis": {"orient": "right", "labels": false, "title": null, "values": [1e-11, 1e-10, 1e-9, 1e-8, 1e-7, 1e-6, 1e-5]}}
          }
        }
      ]
    },
    {
      "width": 246, "height": 145,
      "data": {"name": "p2"},
      "transform": [{"fold": ["BLOCK", "HOLD", "CC"], "as": ["method", "value"]}, {"filter": "isValid(datum.value)"}],
      "resolve": {"axis": {"x": "independent", "y": "independent"}},
      "layer": [
        {
          "mark": {"type": "line", "clip": true, "strokeWidth": 1},
          "encoding": {
            "x": {"field": "t", "type": "quantitative", "scale": {"domain": [0, 700], "nice": false}, "axis": {"values": [0, 100, 200, 300, 400, 500, 600, 700], "title": "time (N-body units)"}},
            "y": {"field": "value", "type": "quantitative", "scale": {"type": "log", "domain": [1e-18, 1e-6], "nice": false},
              "axis": {"values": [1e-18, 1e-17, 1e-16, 1e-15, 1e-14, 1e-13, 1e-12, 1e-11, 1e-10, 1e-9, 1e-8, 1e-7, 1e-6], "title": "|p(t)−p(0)|",
                "labelExpr": "'10' + (datum.value < 1 ? '⁻' : '') + (abs(round(log(datum.value)/LN10)) >= 10 ? '¹' : '') + ['⁰','¹','²','³','⁴','⁵','⁶','⁷','⁸','⁹'][abs(round(log(datum.value)/LN10)) % 10]"}},
            "color": {"field": "method", "type": "nominal", "scale": {"domain": ["BLOCK", "HOLD", "CC"], "range": ["black", "red", "black"]}, "legend": null},
            "strokeDash": {"field": "method", "type": "nominal", "scale": {"domain": ["BLOCK", "HOLD", "CC"], "range": [[4, 3], [1, 0], [1, 0]]}, "legend": null}
          }
        },
        {
          "mark": {"type": "point", "opacity": 0},
          "encoding": {
            "x": {"field": "t", "type": "quantitative", "scale": {"domain": [0, 700], "nice": false}, "axis": {"orient": "top", "labels": false, "title": null, "values": [0, 100, 200, 300, 400, 500, 600, 700]}},
            "y": {"field": "value", "type": "quantitative", "scale": {"type": "log", "domain": [1e-18, 1e-6], "nice": false}, "axis": {"orient": "right", "labels": false, "title": null, "values": [1e-18, 1e-17, 1e-16, 1e-15, 1e-14, 1e-13, 1e-12, 1e-11, 1e-10, 1e-9, 1e-8, 1e-7, 1e-6]}}
          }
        }
      ]
    },
    {
      "width": 246, "height": 145,
      "data": {"name": "p3"},
      "transform": [{"fold": ["BLOCK", "HOLD", "CC"], "as": ["method", "value"]}, {"filter": "isValid(datum.value)"}],
      "resolve": {"axis": {"x": "independent", "y": "independent"}},
      "layer": [
        {
          "mark": {"type": "line", "clip": true, "strokeWidth": 1},
          "encoding": {
            "x": {"field": "t", "type": "quantitative", "scale": {"domain": [0, 700], "nice": false}, "axis": {"values": [0, 100, 200, 300, 400, 500, 600, 700], "title": "time (N-body units)"}},
            "y": {"field": "value", "type": "quantitative", "scale": {"type": "log", "domain": [1e-17, 1e-3], "nice": false},
              "axis": {"values": [1e-17, 1e-16, 1e-15, 1e-14, 1e-13, 1e-12, 1e-11, 1e-10, 1e-9, 1e-8, 1e-7, 1e-6, 1e-5, 1e-4, 1e-3], "title": "|xcm(t)−xcm(0)|",
                "labelExpr": "'10' + (datum.value < 1 ? '⁻' : '') + (abs(round(log(datum.value)/LN10)) >= 10 ? '¹' : '') + ['⁰','¹','²','³','⁴','⁵','⁶','⁷','⁸','⁹'][abs(round(log(datum.value)/LN10)) % 10]"}},
            "color": {"field": "method", "type": "nominal", "scale": {"domain": ["BLOCK", "HOLD", "CC"], "range": ["black", "red", "black"]}, "legend": null},
            "strokeDash": {"field": "method", "type": "nominal", "scale": {"domain": ["BLOCK", "HOLD", "CC"], "range": [[4, 3], [1, 0], [1, 0]]}, "legend": null}
          }
        },
        {
          "mark": {"type": "point", "opacity": 0},
          "encoding": {
            "x": {"field": "t", "type": "quantitative", "scale": {"domain": [0, 700], "nice": false}, "axis": {"orient": "top", "labels": false, "title": null, "values": [0, 100, 200, 300, 400, 500, 600, 700]}},
            "y": {"field": "value", "type": "quantitative", "scale": {"type": "log", "domain": [1e-17, 1e-3], "nice": false}, "axis": {"orient": "right", "labels": false, "title": null, "values": [1e-17, 1e-16, 1e-15, 1e-14, 1e-13, 1e-12, 1e-11, 1e-10, 1e-9, 1e-8, 1e-7, 1e-6, 1e-5, 1e-4, 1e-3]}}
          }
        }
      ]
    },
    {
      "width": 246, "height": 145,
      "data": {"name": "p4"},
      "transform": [{"fold": ["BLOCK", "HOLD", "CC"], "as": ["method", "value"]}, {"filter": "isValid(datum.value)"}],
      "resolve": {"axis": {"x": "independent", "y": "independent"}},
      "layer": [
        {
          "mark": {"type": "line", "clip": true, "strokeWidth": 1},
          "encoding": {
            "x": {"field": "t", "type": "quantitative", "scale": {"domain": [0, 700], "nice": false}, "axis": {"values": [0, 100, 200, 300, 400, 500, 600, 700], "title": "time (N-body units)"}},
            "y": {"field": "value", "type": "quantitative", "scale": {"type": "log", "domain": [1e-19, 1e-6], "nice": false},
              "axis": {"values": [1e-19, 1e-18, 1e-17, 1e-16, 1e-15, 1e-14, 1e-13, 1e-12, 1e-11, 1e-10, 1e-9, 1e-8, 1e-7, 1e-6], "title": "|L(t)−L(0)|",
                "labelExpr": "'10' + (datum.value < 1 ? '⁻' : '') + (abs(round(log(datum.value)/LN10)) >= 10 ? '¹' : '') + ['⁰','¹','²','³','⁴','⁵','⁶','⁷','⁸','⁹'][abs(round(log(datum.value)/LN10)) % 10]"}},
            "color": {"field": "method", "type": "nominal", "scale": {"domain": ["BLOCK", "HOLD", "CC"], "range": ["black", "red", "black"]}, "legend": null},
            "strokeDash": {"field": "method", "type": "nominal", "scale": {"domain": ["BLOCK", "HOLD", "CC"], "range": [[4, 3], [1, 0], [1, 0]]}, "legend": null}
          }
        },
        {
          "mark": {"type": "point", "opacity": 0},
          "encoding": {
            "x": {"field": "t", "type": "quantitative", "scale": {"domain": [0, 700], "nice": false}, "axis": {"orient": "top", "labels": false, "title": null, "values": [0, 100, 200, 300, 400, 500, 600, 700]}},
            "y": {"field": "value", "type": "quantitative", "scale": {"type": "log", "domain": [1e-19, 1e-6], "nice": false}, "axis": {"orient": "right", "labels": false, "title": null, "values": [1e-19, 1e-18, 1e-17, 1e-16, 1e-15, 1e-14, 1e-13, 1e-12, 1e-11, 1e-10, 1e-9, 1e-8, 1e-7, 1e-6]}}
          }
        }
      ]
    },
    {
      "width": 246, "height": 145,
      "data": {"name": "p5"},
      "transform": [{"fold": ["BLOCK", "HOLD", "CC"], "as": ["method", "value"]}, {"filter": "isValid(datum.value)"}],
      "resolve": {"axis": {"x": "independent", "y": "independent"}},
      "layer": [
        {
          "mark": {"type": "line", "clip": true, "strokeWidth": 1},
          "encoding": {
            "x": {"field": "t", "type": "quantitative", "scale": {"domain": [0, 700], "nice": false}, "axis": {"values": [0, 100, 200, 300, 400, 500, 600, 700], "title": "time (N-body units)"}},
            "y": {"field": "value", "type": "quantitative", "scale": {"type": "log", "domain": [1e-3, 1e2], "nice": false},
              "axis": {"values": [1e-3, 1e-2, 1e-1, 1, 10, 100], "title": "Lagrangian and core radii",
                "labelExpr": "'10' + (datum.value < 1 ? '⁻' : '') + (abs(round(log(datum.value)/LN10)) >= 10 ? '¹' : '') + ['⁰','¹','²','³','⁴','⁵','⁶','⁷','⁸','⁹'][abs(round(log(datum.value)/LN10)) % 10]"}},
            "detail": {"field": "r"},
            "color": {"field": "method", "type": "nominal", "scale": {"domain": ["BLOCK", "HOLD", "CC"], "range": ["black", "red", "black"]}, "legend": null},
            "strokeDash": {"field": "method", "type": "nominal", "scale": {"domain": ["BLOCK", "HOLD", "CC"], "range": [[4, 3], [1, 0], [1, 0]]}, "legend": null}
          }
        },
        {
          "mark": {"type": "point", "opacity": 0},
          "encoding": {
            "x": {"field": "t", "type": "quantitative", "scale": {"domain": [0, 700], "nice": false}, "axis": {"orient": "top", "labels": false, "title": null, "values": [0, 100, 200, 300, 400, 500, 600, 700]}},
            "y": {"field": "value", "type": "quantitative", "scale": {"type": "log", "domain": [1e-3, 1e2], "nice": false}, "axis": {"orient": "right", "labels": false, "title": null, "values": [1e-3, 1e-2, 1e-1, 1, 10, 100]}}
          }
        }
      ]
    },
    {
      "width": 246, "height": 145,
      "data": {"name": "p6"},
      "transform": [{"fold": ["BLOCK", "HOLD", "CC"], "as": ["method", "value"]}, {"filter": "isValid(datum.value)"}],
      "resolve": {"axis": {"x": "independent", "y": "independent"}},
      "layer": [
        {
          "mark": {"type": "line", "clip": true, "strokeWidth": 1},
          "encoding": {
            "x": {"field": "t", "type": "quantitative", "scale": {"domain": [0, 700], "nice": false}, "axis": {"values": [0, 100, 200, 300, 400, 500, 600, 700], "title": "time (N-body units)"}},
            "y": {"field": "value", "type": "quantitative", "scale": {"type": "log", "domain": [1, 1e6], "nice": false},
              "axis": {"values": [1, 10, 100, 1000, 1e4, 1e5, 1e6], "title": "core density",
                "labelExpr": "'10' + (datum.value < 1 ? '⁻' : '') + (abs(round(log(datum.value)/LN10)) >= 10 ? '¹' : '') + ['⁰','¹','²','³','⁴','⁵','⁶','⁷','⁸','⁹'][abs(round(log(datum.value)/LN10)) % 10]"}},
            "color": {"field": "method", "type": "nominal", "scale": {"domain": ["BLOCK", "HOLD", "CC"], "range": ["black", "red", "black"]}, "legend": null},
            "strokeDash": {"field": "method", "type": "nominal", "scale": {"domain": ["BLOCK", "HOLD", "CC"], "range": [[4, 3], [1, 0], [1, 0]]}, "legend": null}
          }
        },
        {
          "mark": {"type": "point", "opacity": 0},
          "encoding": {
            "x": {"field": "t", "type": "quantitative", "scale": {"domain": [0, 700], "nice": false}, "axis": {"orient": "top", "labels": false, "title": null, "values": [0, 100, 200, 300, 400, 500, 600, 700]}},
            "y": {"field": "value", "type": "quantitative", "scale": {"type": "log", "domain": [1, 1e6], "nice": false}, "axis": {"orient": "right", "labels": false, "title": null, "values": [1, 10, 100, 1000, 1e4, 1e5, 1e6]}}
          }
        }
      ]
    },
    {
      "width": 246, "height": 145,
      "data": {"name": "p7"},
      "transform": [{"fold": ["BLOCK", "HOLD", "CC"], "as": ["method", "value"]}, {"filter": "isValid(datum.value)"}],
      "resolve": {"axis": {"x": "independent", "y": "independent"}},
      "layer": [
        {
          "mark": {"type": "line", "clip": true, "strokeWidth": 1},
          "encoding": {
            "x": {"field": "t", "type": "quantitative", "scale": {"domain": [0, 700], "nice": false}, "axis": {"values": [0, 100, 200, 300, 400, 500, 600, 700], "title": "time (N-body units)"}},
            "y": {"field": "value", "type": "quantitative", "scale": {"type": "log", "domain": [0.1, 100], "nice": false},
              "axis": {"values": [0.1, 1, 10, 100], "title": "kick evaluations (normalised)",
                "labelExpr": "'10' + (datum.value < 1 ? '⁻' : '') + (abs(round(log(datum.value)/LN10)) >= 10 ? '¹' : '') + ['⁰','¹','²','³','⁴','⁵','⁶','⁷','⁸','⁹'][abs(round(log(datum.value)/LN10)) % 10]"}},
            "color": {"field": "method", "type": "nominal", "scale": {"domain": ["BLOCK", "HOLD", "CC"], "range": ["black", "red", "black"]}, "legend": null},
            "strokeDash": {"field": "method", "type": "nominal", "scale": {"domain": ["BLOCK", "HOLD", "CC"], "range": [[4, 3], [1, 0], [1, 0]]}, "legend": null}
          }
        },
        {
          "mark": {"type": "point", "opacity": 0},
          "encoding": {
            "x": {"field": "t", "type": "quantitative", "scale": {"domain": [0, 700], "nice": false}, "axis": {"orient": "top", "labels": false, "title": null, "values": [0, 100, 200, 300, 400, 500, 600, 700]}},
            "y": {"field": "value", "type": "quantitative", "scale": {"type": "log", "domain": [0.1, 100], "nice": false}, "axis": {"orient": "right", "labels": false, "title": null, "values": [0.1, 1, 10, 100]}}
          }
        }
      ]
    },
    {
      "width": 246, "height": 145,
      "data": {"name": "p8"},
      "transform": [{"fold": ["BLOCK", "HOLD", "CC"], "as": ["method", "value"]}, {"filter": "isValid(datum.value)"}],
      "resolve": {"axis": {"x": "independent", "y": "independent"}},
      "layer": [
        {
          "mark": {"type": "line", "clip": true, "strokeWidth": 1},
          "encoding": {
            "x": {"field": "t", "type": "quantitative", "scale": {"domain": [0, 700], "nice": false}, "axis": {"values": [0, 100, 200, 300, 400, 500, 600, 700], "title": "time (N-body units)"}},
            "y": {"field": "value", "type": "quantitative", "scale": {"type": "log", "domain": [0.1, 1000], "nice": false},
              "axis": {"values": [0.1, 1, 10, 100, 1000], "title": "drift evaluations (normalised)",
                "labelExpr": "'10' + (datum.value < 1 ? '⁻' : '') + (abs(round(log(datum.value)/LN10)) >= 10 ? '¹' : '') + ['⁰','¹','²','³','⁴','⁵','⁶','⁷','⁸','⁹'][abs(round(log(datum.value)/LN10)) % 10]"}},
            "color": {"field": "method", "type": "nominal", "scale": {"domain": ["BLOCK", "HOLD", "CC"], "range": ["black", "red", "black"]}, "legend": null},
            "strokeDash": {"field": "method", "type": "nominal", "scale": {"domain": ["BLOCK", "HOLD", "CC"], "range": [[4, 3], [1, 0], [1, 0]]}, "legend": null}
          }
        },
        {
          "mark": {"type": "point", "opacity": 0},
          "encoding": {
            "x": {"field": "t", "type": "quantitative", "scale": {"domain": [0, 700], "nice": false}, "axis": {"orient": "top", "labels": false, "title": null, "values": [0, 100, 200, 300, 400, 500, 600, 700]}},
            "y": {"field": "value", "type": "quantitative", "scale": {"type": "log", "domain": [0.1, 1000], "nice": false}, "axis": {"orient": "right", "labels": false, "title": null, "values": [0.1, 1, 10, 100, 1000]}}
          }
        }
      ]
    },
    {
      "width": 246, "height": 145,
      "data": {"name": "p9"},
      "transform": [{"fold": ["BLOCK", "HOLD", "CC"], "as": ["method", "value"]}, {"filter": "isValid(datum.value)"}],
      "resolve": {"axis": {"x": "independent", "y": "independent"}},
      "layer": [
        {
          "mark": {"type": "line", "clip": true, "strokeWidth": 1},
          "encoding": {
            "x": {"field": "t", "type": "quantitative", "scale": {"domain": [0, 700], "nice": false}, "axis": {"values": [0, 100, 200, 300, 400, 500, 600, 700], "title": "time (N-body units)"}},
            "y": {"field": "value", "type": "quantitative", "scale": {"type": "log", "domain": [0.1, 100], "nice": false},
              "axis": {"values": [0.1, 1, 10, 100], "title": "time step evaluations (normalised)",
                "labelExpr": "'10' + (datum.value < 1 ? '⁻' : '') + (abs(round(log(datum.value)/LN10)) >= 10 ? '¹' : '') + ['⁰','¹','²','³','⁴','⁵','⁶','⁷','⁸','⁹'][abs(round(log(datum.value)/LN10)) % 10]"}},
            "color": {"field": "method", "type": "nominal", "scale": {"domain": ["BLOCK", "HOLD", "CC"], "range": ["black", "red", "black"]}, "legend": null},
            "strokeDash": {"field": "method", "type": "nominal", "scale": {"domain": ["BLOCK", "HOLD", "CC"], "range": [[4, 3], [1, 0], [1, 0]]}, "legend": null}
          }
        },
        {
          "mark": {"type": "point", "opacity": 0},
          "encoding": {
            "x": {"field": "t", "type": "quantitative", "scale": {"domain": [0, 700], "nice": false}, "axis": {"orient": "top", "labels": false, "title": null, "values": [0, 100, 200, 300, 400, 500, 600, 700]}},
            "y": {"field": "value", "type": "quantitative", "scale": {"type": "log", "domain": [0.1, 100], "nice": false}, "axis": {"orient": "right", "labels": false, "title": null, "values": [0.1, 1, 10, 100]}}
          }
        }
      ]
    },
    {
      "width": 246, "height": 145,
      "data": {"name": "p10"},
      "transform": [{"fold": ["BLOCK", "HOLD", "CC"], "as": ["method", "value"]}, {"filter": "isValid(datum.value)"}],
      "resolve": {"axis": {"x": "independent", "y": "independent"}},
      "layer": [
        {
          "mark": {"type": "line", "clip": true, "strokeWidth": 1},
          "encoding": {
            "x": {"field": "t", "type": "quantitative", "scale": {"domain": [0, 700], "nice": false}, "axis": {"values": [0, 100, 200, 300, 400, 500, 600, 700], "title": "time (N-body units)"}},
            "y": {"field": "value", "type": "quantitative", "scale": {"type": "log", "domain": [0.1, 100], "nice": false},
              "axis": {"values": [0.1, 1, 10, 100], "title": "wall-clock time (normalised)",
                "labelExpr": "'10' + (datum.value < 1 ? '⁻' : '') + (abs(round(log(datum.value)/LN10)) >= 10 ? '¹' : '') + ['⁰','¹','²','³','⁴','⁵','⁶','⁷','⁸','⁹'][abs(round(log(datum.value)/LN10)) % 10]"}},
            "color": {"field": "method", "type": "nominal", "scale": {"domain": ["BLOCK", "HOLD", "CC"], "range": ["black", "red", "black"]},
              "legend": {"title": null, "orient": "top-left", "offset": 5, "padding": 4, "strokeColor": "black", "fillColor": "white", "labelFontSize": 12, "labelOffset": 13, "symbolSize": 256, "symbolOffset": 3, "symbolStrokeWidth": 1, "rowPadding": 0}},
            "strokeDash": {"field": "method", "type": "nominal", "scale": {"domain": ["BLOCK", "HOLD", "CC"], "range": [[4, 3], [1, 0], [1, 0]]},
              "legend": {"title": null, "orient": "top-left", "offset": 5, "padding": 4, "strokeColor": "black", "fillColor": "white", "labelFontSize": 12, "labelOffset": 13, "symbolSize": 256, "symbolOffset": 3, "symbolStrokeWidth": 1, "rowPadding": 0}}
          }
        },
        {
          "mark": {"type": "point", "opacity": 0},
          "encoding": {
            "x": {"field": "t", "type": "quantitative", "scale": {"domain": [0, 700], "nice": false}, "axis": {"orient": "top", "labels": false, "title": null, "values": [0, 100, 200, 300, 400, 500, 600, 700]}},
            "y": {"field": "value", "type": "quantitative", "scale": {"type": "log", "domain": [0.1, 100], "nice": false}, "axis": {"orient": "right", "labels": false, "title": null, "values": [0.1, 1, 10, 100]}}
          }
        }
      ]
    }
  ]
}
